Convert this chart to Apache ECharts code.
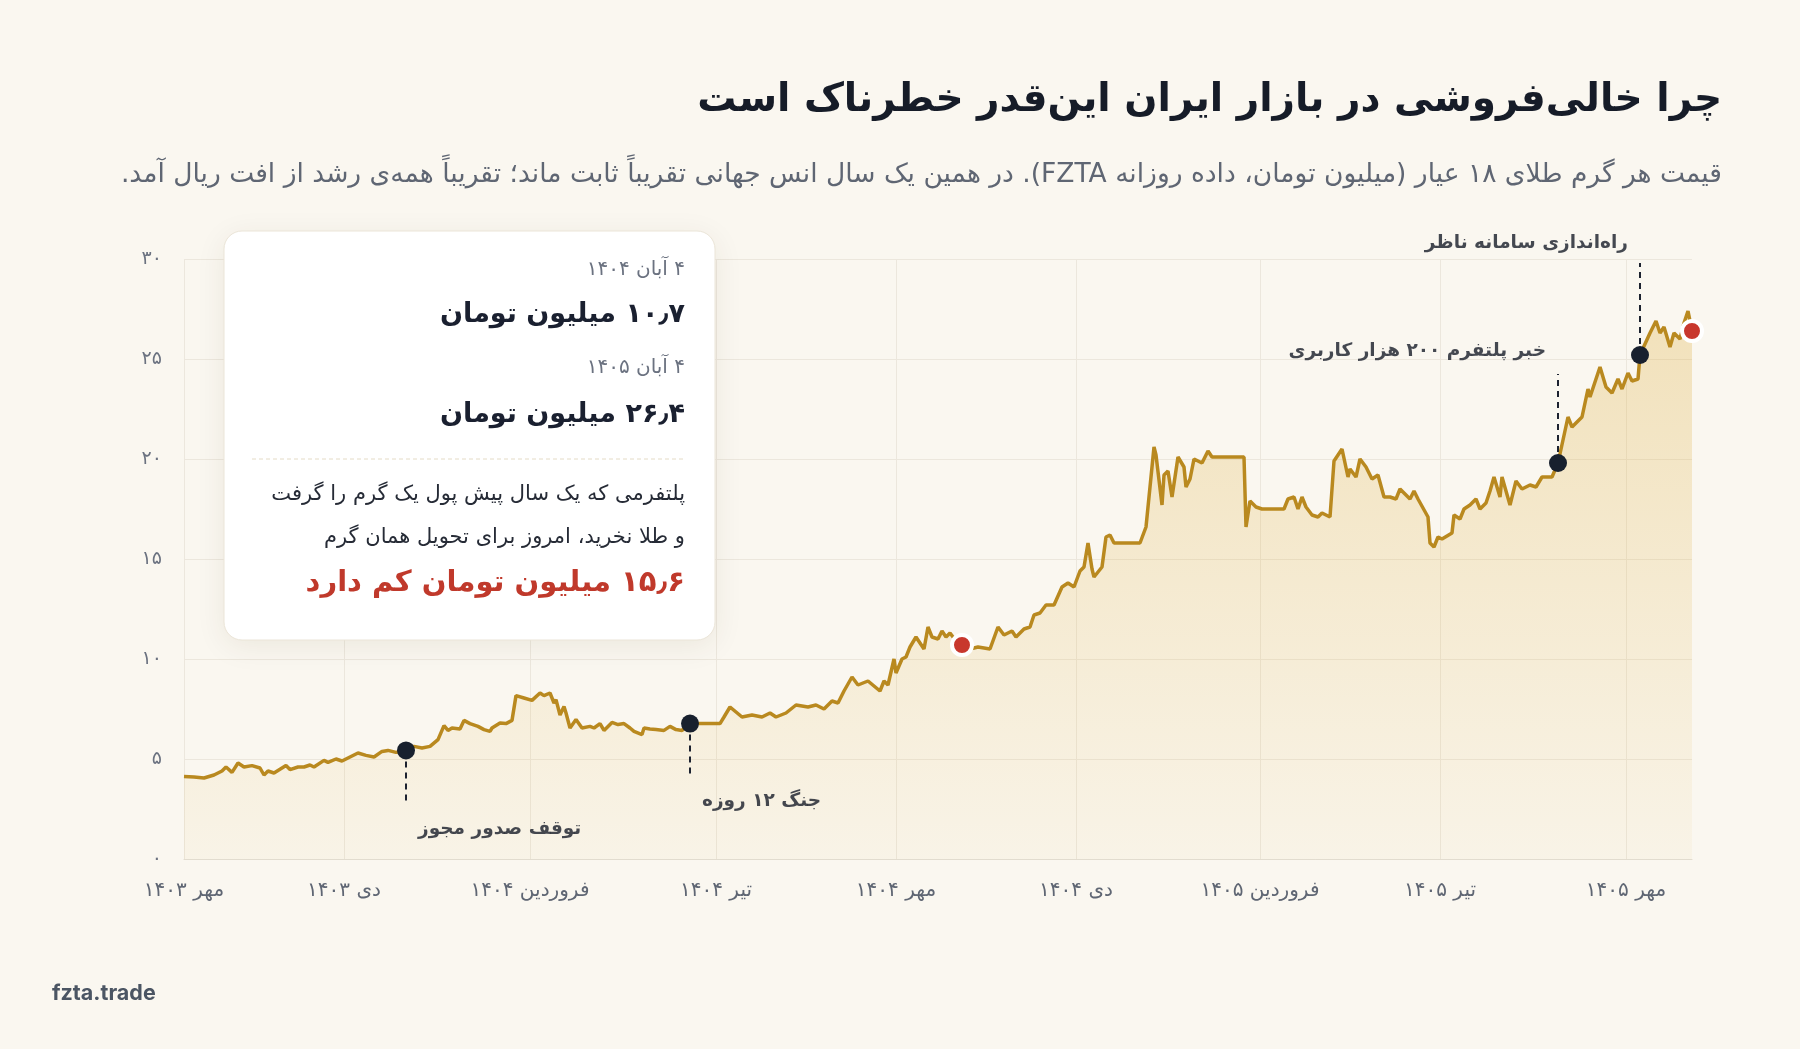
<!DOCTYPE html>
<html lang="fa">
<head>
<meta charset="utf-8">
<title>چرا خالی‌فروشی در بازار ایران این‌قدر خطرناک است</title>
<script src="https://cdn.jsdelivr.net/npm/echarts@6/dist/echarts.min.js"></script>
<style>
html, body { margin: 0; padding: 0; background: #faf7f0; }
#chart { width: 1800px; height: 1049px; direction: rtl; }
</style>
</head>
<body>
<div id="chart" dir="rtl"></div>
<script>
var FONT = '"DejaVu Sans", sans-serif';

// روز از ابتدای مهر ۱۴۰۳ / قیمت هر گرم طلای ۱۸ عیار (میلیون تومان)
var days = [10, 15, 20, 25, 29, 31, 34, 37, 40, 44, 48, 50, 52, 55, 61, 63, 67, 70, 73, 75,
	80, 82, 86, 89, 93, 97, 101, 105, 109, 112, 116, 121, 125, 129, 133, 137, 140, 142, 144, 148,
	150, 153, 157, 160, 163, 164, 168, 171, 174, 176, 180, 184, 188, 190, 193, 195, 196, 198, 200, 201,
	203, 206, 209, 213, 215, 218, 220, 224, 227, 230, 233, 235, 239, 240, 243, 246, 250, 253, 256, 259,
	263, 278, 280, 283, 289, 294, 299, 303, 306, 311, 316, 322, 326, 330, 334, 337, 340, 344, 347, 352,
	358, 360, 362, 365, 366, 369, 371, 373, 376, 380, 382, 384, 387, 389, 391, 393, 396, 399, 403, 407,
	413, 417, 420, 424, 426, 430, 433, 435, 438, 441, 445, 449, 452, 455, 458, 460, 462, 464, 465, 469,
	471, 473, 475, 488, 491, 495, 496, 499, 500, 502, 504, 507, 510, 511, 513, 515, 519, 522, 524, 540,
	541, 543, 546, 549, 560, 562, 565, 567, 569, 571, 574, 577, 579, 583, 585, 589, 592, 593, 596, 598,
	601, 604, 607, 610, 613, 616, 618, 621, 623, 625, 627, 628, 632, 633, 635, 637, 639, 644, 645, 648,
	650, 653, 656, 658, 661, 663, 665, 668, 669, 673, 676, 679, 683, 686, 689, 694, 697, 702, 704, 709,
	712, 713, 718, 721, 724, 727, 729, 732, 734, 737, 738, 743, 746, 748, 750, 753, 755, 758, 760, 762,
	764];
var prices = [4.13, 4.10, 4.05, 4.20, 4.40, 4.60, 4.33, 4.80, 4.60, 4.67, 4.55, 4.20, 4.40, 4.30, 4.67, 4.47, 4.60, 4.60, 4.70, 4.60,
	4.93, 4.83, 5.00, 4.90, 5.10, 5.30, 5.18, 5.10, 5.38, 5.43, 5.33, 5.43, 5.63, 5.55, 5.63, 5.97, 6.67, 6.43, 6.55, 6.50,
	6.93, 6.77, 6.63, 6.47, 6.38, 6.55, 6.80, 6.77, 6.93, 8.17, 8.05, 7.93, 8.30, 8.17, 8.30, 7.80, 7.97, 7.20, 7.63, 7.30,
	6.55, 6.97, 6.55, 6.63, 6.55, 6.77, 6.43, 6.83, 6.72, 6.77, 6.55, 6.38, 6.22, 6.55, 6.50, 6.47, 6.43, 6.63, 6.47, 6.43,
	6.77, 6.77, 7.10, 7.60, 7.10, 7.20, 7.10, 7.30, 7.10, 7.30, 7.70, 7.60, 7.70, 7.50, 7.90, 7.80, 8.40, 9.10, 8.70, 8.90,
	8.40, 8.90, 8.70, 10.0, 9.30, 10.0, 10.1, 10.6, 11.1, 10.5, 11.6, 11.1, 11.0, 11.4, 11.1, 11.3, 10.9, 10.7, 10.5, 10.6,
	10.5, 11.6, 11.2, 11.4, 11.1, 11.5, 11.6, 12.2, 12.3, 12.7, 12.7, 13.6, 13.8, 13.6, 14.4, 14.6, 15.8, 14.5, 14.1, 14.6,
	16.1, 16.2, 15.8, 15.8, 16.6, 20.6, 20.2, 17.7, 19.2, 19.4, 18.1, 20.1, 19.6, 18.6, 19.0, 20.0, 19.8, 20.4, 20.1, 20.1,
	16.6, 17.9, 17.6, 17.5, 17.5, 18.0, 18.1, 17.5, 18.1, 17.6, 17.2, 17.1, 17.3, 17.1, 19.9, 20.5, 19.1, 19.5, 19.1, 20.0,
	19.6, 19.0, 19.2, 18.1, 18.1, 18.0, 18.5, 18.2, 18.0, 18.4, 18.0, 17.9, 17.1, 15.8, 15.6, 16.1, 16.0, 16.3, 17.2, 17.0,
	17.5, 17.7, 18.0, 17.5, 17.8, 18.4, 19.1, 18.1, 19.1, 17.7, 18.9, 18.5, 18.7, 18.6, 19.1, 19.1, 19.8, 22.1, 21.6, 22.1,
	23.5, 23.1, 24.6, 23.6, 23.3, 24.0, 23.5, 24.3, 23.9, 24.0, 25.2, 26.3, 26.9, 26.3, 26.6, 25.6, 26.3, 26.0, 26.8, 27.4,
	26.4];

// محور افقی
var tickDays = [10, 90, 183, 276, 366, 456, 548, 638, 731];
var tickLabels = ['مهر ۱۴۰۳', 'دی ۱۴۰۳', 'فروردین ۱۴۰۴', 'تیر ۱۴۰۴', 'مهر ۱۴۰۴', 'دی ۱۴۰۴', 'فروردین ۱۴۰۵', 'تیر ۱۴۰۵', 'مهر ۱۴۰۵'];

// رویدادها
var eventDays = [121, 263, 697, 738];
var eventValues = [5.43, 6.77, 19.8, 25.2];
var eventNames = ['توقف صدور مجوز', 'جنگ ۱۲ روزه', 'خبر پلتفرم ۲۰۰ هزار کاربری', 'راه‌اندازی سامانه ناظر'];
var eventLineEnds = [2.7, 4.1, 24.25, 29.8];
var eventLabelValues = [1.5, 2.9, 25.4, 30.8];
var eventLabelSide = ['left', 'left', 'right', 'right'];

// دو نقطه مقایسه (۴ آبان ۱۴۰۴ و ۴ آبان ۱۴۰۵)
var highlightDays = [399, 764];
var highlightValues = [10.7, 26.4];

function fa(s) {
	return String(s).replace(/[0-9]/g, function (d) { return '۰۱۲۳۴۵۶۷۸۹'[d]; }).replace('.', '٫');
}

var lineData = days.map(function (d, i) { return [d, prices[i]]; });
var eventData = eventDays.map(function (d, i) { return [d, eventValues[i]]; });
var highlightData = highlightDays.map(function (d, i) { return [d, highlightValues[i]]; });
var eventLines = eventDays.map(function (d, i) {
	return [{ coord: [d, eventValues[i]] }, { coord: [d, eventLineEnds[i]] }];
});
var labelData = eventDays.map(function (d, i) {
	return {
		name: eventNames[i],
		value: [d, eventLabelValues[i]],
		label: { align: eventLabelSide[i], offset: [eventLabelSide[i] == 'left' ? 12 : -12, 0] }
	};
});

var myChart = echarts.init(document.getElementById('chart'));
option = {
	backgroundColor: '#faf7f0',
	animation: false,
	textStyle: { fontFamily: FONT },
	grid: { left: 184, right: 108, top: 259, bottom: 190 },
	xAxis: {
		type: 'value',
		min: 10,
		max: 764,
		axisLine: { show: true, lineStyle: { color: '#e2dccf', width: 1 } },
		axisTick: { show: false, customValues: tickDays },
		splitLine: { show: true, lineStyle: { color: '#ece7dd', width: 1 } },
		axisLabel: {
			customValues: tickDays,
			margin: 22,
			fontSize: 20,
			color: '#5f6673',
			fontFamily: FONT,
			formatter: function (v) { return tickLabels[tickDays.indexOf(v)]; }
		}
	},
	yAxis: {
		type: 'value',
		min: 0,
		max: 30,
		interval: 5,
		axisLine: { show: false },
		axisTick: { show: false },
		splitLine: { lineStyle: { color: '#ece7dd', width: 1 } },
		axisLabel: {
			margin: 22,
			fontSize: 19,
			color: '#6b7280',
			fontFamily: FONT,
			formatter: function (v) { return fa(v); }
		}
	},
	series: [{
			name: 'قیمت',
			type: 'line',
			data: lineData,
			showSymbol: false,
			symbol: 'none',
			z: 2,
			lineStyle: { color: '#b9891f', width: 3.5 },
			areaStyle: {
				color: new echarts.graphic.LinearGradient(0, 0, 0, 1, [
					{ offset: 0, color: 'rgba(221,172,58,0.42)' },
					{ offset: 1, color: 'rgba(221,172,58,0.07)' }
				])
			},
			markLine: {
				silent: true,
				symbol: 'none',
				z: 3,
				label: { show: false },
				lineStyle: { color: '#1c2230', width: 2, type: [6, 5] },
				data: eventLines
			}
		},
		{
			name: 'رویداد',
			type: 'scatter',
			data: eventData,
			symbolSize: 18,
			z: 10,
			itemStyle: { color: '#18202e', opacity: 1 }
		},
		{
			name: 'مقایسه',
			type: 'scatter',
			data: highlightData,
			symbolSize: 20,
			z: 11,
			itemStyle: { color: '#c8372d', borderColor: '#ffffff', borderWidth: 4, opacity: 1 }
		},
		{
			name: 'برچسب',
			type: 'scatter',
			data: labelData,
			symbolSize: 0,
			clip: false,
			silent: true,
			z: 12,
			label: {
				show: true,
				position: 'inside',
				verticalAlign: 'middle',
				formatter: '{b}',
				fontSize: 18.5,
				fontWeight: 'bold',
				color: '#161c28',
				fontFamily: FONT
			}
		}
	],
	graphic: [
		{ type: 'text', x: 1722, y: 101, z: 100, style: { text: 'چرا خالی‌فروشی در بازار ایران این‌قدر خطرناک است', align: 'right', verticalAlign: 'middle', font: 'bold 39px ' + FONT, fill: '#161c28' } },
		{ type: 'text', x: 1722, y: 175, z: 100, style: { text: 'قیمت هر گرم طلای ۱۸ عیار (میلیون تومان، داده روزانه FZTA). در همین یک سال انس جهانی تقریباً ثابت ماند؛ تقریباً همه‌ی رشد از افت ریال آمد.', align: 'right', verticalAlign: 'middle', font: '26.5px ' + FONT, fill: '#5f6673' } },
		{ type: 'text', x: 52, y: 994, z: 100, style: { text: 'fzta.trade', align: 'left', verticalAlign: 'middle', font: 'bold 21.5px Inter, ' + FONT, fill: '#4b5563' } },
		// کارت توضیح
		{ type: 'rect', z: 100, shape: { x: 224, y: 231, width: 491, height: 409, r: 18 }, style: { fill: '#ffffff', stroke: '#ebe5d8', lineWidth: 1, shadowBlur: 30, shadowColor: 'rgba(70,50,10,0.08)', shadowOffsetY: 6 } },
		{ type: 'text', x: 685, y: 270, z: 101, style: { text: '۴ آبان ۱۴۰۴', align: 'right', verticalAlign: 'middle', font: '20px ' + FONT, fill: '#6b7280' } },
		{ type: 'text', x: 685, y: 315, z: 101, style: { text: '۱۰٫۷ میلیون تومان', align: 'right', verticalAlign: 'middle', font: 'bold 27px ' + FONT, fill: '#1a2030' } },
		{ type: 'text', x: 685, y: 368, z: 101, style: { text: '۴ آبان ۱۴۰۵', align: 'right', verticalAlign: 'middle', font: '20px ' + FONT, fill: '#6b7280' } },
		{ type: 'text', x: 685, y: 415, z: 101, style: { text: '۲۶٫۴ میلیون تومان', align: 'right', verticalAlign: 'middle', font: 'bold 27px ' + FONT, fill: '#1a2030' } },
		{ type: 'line', z: 101, shape: { x1: 252, y1: 459, x2: 685, y2: 459 }, style: { stroke: '#e4dbc6', lineWidth: 1, lineDash: [4, 3] } },
		{ type: 'text', x: 685, y: 495, z: 101, style: { text: 'پلتفرمی که یک سال پیش پول یک گرم را گرفت', align: 'right', verticalAlign: 'middle', font: '21px ' + FONT, fill: '#262b36' } },
		{ type: 'text', x: 685, y: 538, z: 101, style: { text: 'و طلا نخرید، امروز برای تحویل همان گرم', align: 'right', verticalAlign: 'middle', font: '21px ' + FONT, fill: '#262b36' } },
		{ type: 'text', x: 685, y: 583, z: 101, style: { text: '۱۵٫۶ میلیون تومان کم دارد', align: 'right', verticalAlign: 'middle', font: 'bold 29px ' + FONT, fill: '#c0392b' } }
	]
};
myChart.setOption(option);
</script>
</body>
</html>
